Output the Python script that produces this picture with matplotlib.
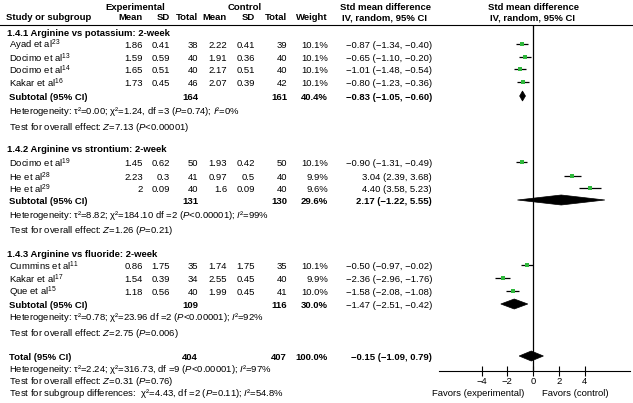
import numpy as np
import matplotlib as mpl
import matplotlib.pyplot as plt
from matplotlib.patches import Polygon

mpl.rcParams['font.family'] = 'Liberation Sans'
mpl.rcParams['mathtext.fontset'] = 'custom'
mpl.rcParams['mathtext.rm'] = 'Liberation Sans'
mpl.rcParams['mathtext.it'] = 'Liberation Sans:italic'
mpl.rcParams['mathtext.bf'] = 'Liberation Sans:bold'

# study level data
studies = ['Ayad et al$^{23}$', 'Docimo et al$^{13}$', 'Docimo et al$^{14}$', 'Kakar et al$^{16}$',
           'Docimo et al$^{19}$', 'He et al$^{28}$', 'He et al$^{29}$',
           'Cummins et al$^{11}$', 'Kakar et al$^{17}$', 'Que et al$^{15}$']
exp_mean = [1.86, 1.59, 1.65, 1.73, 1.45, 2.23, 2, 0.86, 1.54, 1.18]
exp_sd = [0.41, 0.59, 0.51, 0.45, 0.62, 0.3, 0.09, 1.75, 0.39, 0.56]
exp_n = [38, 40, 40, 46, 50, 41, 40, 35, 34, 40]
ctl_mean = [2.22, 1.91, 2.17, 2.07, 1.93, 0.97, 1.6, 1.74, 2.55, 1.99]
ctl_sd = [0.41, 0.36, 0.51, 0.39, 0.42, 0.5, 0.09, 1.75, 0.45, 0.45]
ctl_n = [39, 40, 40, 42, 50, 40, 40, 35, 40, 41]
weight = [10.1, 10.1, 10.1, 10.1, 10.1, 9.9, 9.6, 10.1, 9.9, 10.0]
smd = [-0.87, -0.65, -1.01, -0.80, -0.90, 3.04, 4.40, -0.50, -2.36, -1.58]
smd_lo = [-1.34, -1.10, -1.48, -1.23, -1.31, 2.39, 3.58, -0.97, -2.96, -2.08]
smd_hi = [-0.40, -0.20, -0.54, -0.36, -0.49, 3.68, 5.23, -0.02, -1.76, -1.08]
group = [0, 0, 0, 0, 1, 1, 1, 2, 2, 2]

# subgroup data
sub_names = ['1.4.1 Arginine vs potassium: 2-week',
             '1.4.2 Arginine vs strontium: 2-week',
             '1.4.3 Arginine vs fluoride: 2-week']
sub_exp_n = [164, 131, 109]
sub_ctl_n = [161, 130, 116]
sub_weight = [40.4, 29.6, 30.0]
sub_smd = [-0.83, 2.17, -1.47]
sub_lo = [-1.05, -1.22, -2.51]
sub_hi = [-0.60, 5.55, -0.42]
sub_ci_bold = [True, True, False]
sub_het = [r'Heterogeneity: τ²=0.00; χ²=1.24, df =3 ($P$=0.74); $I$²=0%',
           r'Heterogeneity: τ²=8.82; χ²=184.10 df =2 ($P$<0.00001); $I$²=99%',
           r'Heterogeneity: τ²=0.78; χ²=23.96 df =2 ($P$<0.00001); $I$²=92%']
sub_test = [r'Test for overall effect: $Z$=7.13 ($P$<0.00001)',
            r'Test for overall effect: $Z$=1.26 ($P$=0.21)',
            r'Test for overall effect: $Z$=2.75 ($P$=0.006)']

# overall
tot_exp_n, tot_ctl_n, tot_weight = 404, 407, 100.0
tot_smd, tot_lo, tot_hi = -0.15, -1.09, 0.79
tot_het = r'Heterogeneity: τ²=2.24; χ²=316.73, df =9 ($P$<0.00001); $I$²=97%'
tot_test = r'Test for overall effect: $Z$=0.31 ($P$=0.76)'
tot_sub = r'Test for subgroup differences:  χ²=4.43, df =2 ($P$=0.11); $I$²=54.8%'
xticks = [-4, -2, 0, 2, 4]

# layout (pixel rows from the top)
W, H = 633, 403
study_y = [44, 57, 69, 82, 162, 176, 188, 265, 278, 291]
head_y = [32, 148, 253]
sub_y = [96, 200, 304]
het_y = [110, 214, 316]
test_y = [126, 229, 332]
total_y = 356
x_emean, x_esd, x_en = 143, 170, 198
x_cmean, x_csd, x_cn = 227, 255, 287
x_w, x_ci = 328, 432
fs = 6.8
green = '#2fb83c'


def fmt_ci(e, l, h):
    return f'{e:.2f} ({l:.2f}, {h:.2f})'.replace('-', '\u2212')


fig = plt.figure(figsize=(W / 100, H / 100), dpi=100)
tx = fig.add_axes([0, 0, 1, 1])
tx.set_xlim(0, W)
tx.set_ylim(H, 0)
tx.axis('off')


def put(x, y, s, ha='left', bold=False, dy=1.5):
    tx.text(x, y + dy, s, ha=ha, va='center', fontsize=fs,
            fontweight='bold' if bold else 'normal')


# headers
put(135, 6, 'Experimental', ha='center', bold=True)
put(245, 6, 'Control', ha='center', bold=True)
put(385, 6, 'Std mean difference', ha='center', bold=True)
put(533, 6, 'Std mean difference', ha='center', bold=True)
put(6, 16, 'Study or subgroup', bold=True)
for x, s in [(x_emean, 'Mean'), (x_esd, 'SD'), (x_en, 'Total'), (x_cmean, 'Mean'),
             (x_csd, 'SD'), (x_cn, 'Total'), (x_w, 'Weight')]:
    put(x, 16, s, ha='right', bold=True)
put(385, 16, 'IV, random, 95% CI', ha='center', bold=True)
put(533, 16, 'IV, random, 95% CI', ha='center', bold=True)
tx.plot([0, W], [25, 25], color='black', lw=0.8)

# study rows
for i, name in enumerate(studies):
    y = study_y[i]
    put(9, y, name)
    put(x_emean, y, f'{exp_mean[i]:g}', ha='right')
    put(x_esd, y, f'{exp_sd[i]:g}', ha='right')
    put(x_en, y, str(exp_n[i]), ha='right')
    put(x_cmean, y, f'{ctl_mean[i]:g}', ha='right')
    put(x_csd, y, f'{ctl_sd[i]:g}', ha='right')
    put(x_cn, y, str(ctl_n[i]), ha='right')
    put(x_w, y, f'{weight[i]:.1f}%', ha='right')
    put(x_ci, y, fmt_ci(smd[i], smd_lo[i], smd_hi[i]), ha='right')

# subgroup rows
for g in range(3):
    put(7, head_y[g], sub_names[g], bold=True)
    put(9, sub_y[g], 'Subtotal (95% CI)', bold=True)
    put(x_en, sub_y[g], str(sub_exp_n[g]), ha='right', bold=True)
    put(x_cn, sub_y[g], str(sub_ctl_n[g]), ha='right', bold=True)
    put(x_w, sub_y[g], f'{sub_weight[g]:.1f}%', ha='right', bold=True)
    put(x_ci, sub_y[g], fmt_ci(sub_smd[g], sub_lo[g], sub_hi[g]), ha='right',
        bold=sub_ci_bold[g])
    put(9, het_y[g], sub_het[g])
    put(9, test_y[g], sub_test[g])

# total rows
put(9, total_y, 'Total (95% CI)', bold=True)
put(x_en, total_y, str(tot_exp_n), ha='right', bold=True)
put(x_cn, total_y, str(tot_ctl_n), ha='right', bold=True)
put(x_w, total_y, f'{tot_weight:.1f}%', ha='right', bold=True)
put(x_ci, total_y, fmt_ci(tot_smd, tot_lo, tot_hi), ha='right', bold=True)
put(9, 368, tot_het)
put(9, 380.5, tot_test)
put(9, 392.5, tot_sub)

# forest panel
x0, x1, ytop, ybot = 439, 630, 25, 371
ax = fig.add_axes([x0 / W, (H - ybot) / H, (x1 - x0) / W, (ybot - ytop) / H])
ax.set_xlim(-7.3, 7.5)
ax.set_ylim(ybot, ytop)
ax.patch.set_alpha(0)
for sp in ['top', 'right', 'left']:
    ax.spines[sp].set_visible(False)
ax.spines['bottom'].set_linewidth(0.8)
ax.set_yticks([])
ax.set_xticks(xticks)
ax.tick_params(axis='x', direction='inout', length=7, width=0.8, labelsize=fs, pad=1)
ax.axvline(0, color='black', lw=0.9)

ax.hlines(study_y, smd_lo, smd_hi, color='black', lw=0.9)
ax.plot(smd, study_y, 's', color=green, markersize=3.2, markeredgewidth=0)


def diamond(e, l, h, y, hh=5):
    ax.add_patch(Polygon([[l, y], [e, y - hh], [h, y], [e, y + hh]],
                         closed=True, facecolor='black', edgecolor='black', lw=0.5))


for g in range(3):
    diamond(sub_smd[g], sub_lo[g], sub_hi[g], sub_y[g])
diamond(tot_smd, tot_lo, tot_hi, total_y)

tx.text(478, 393, 'Favors (experimental)', ha='center', va='center', fontsize=fs)
tx.text(575, 393, 'Favors (control)', ha='center', va='center', fontsize=fs)

fig.savefig('out.png', dpi=100)
